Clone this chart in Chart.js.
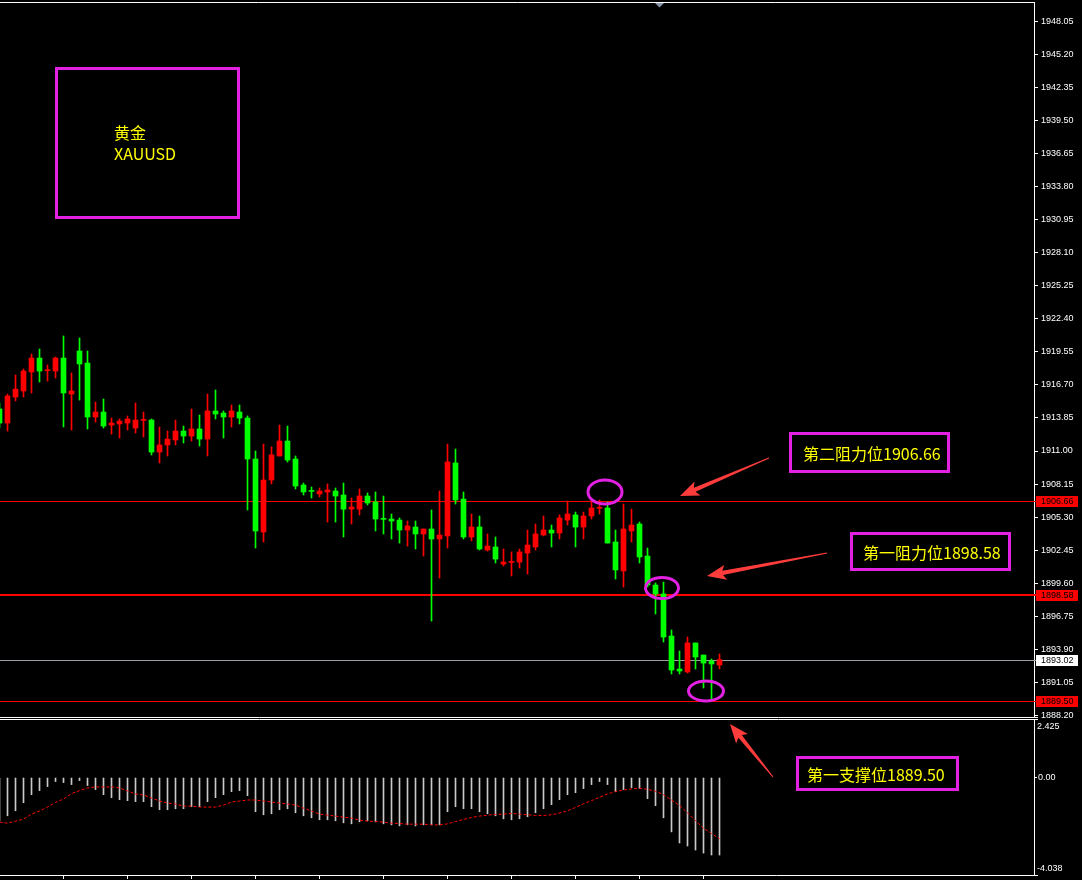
<!DOCTYPE html>
<html>
<head>
<meta charset="utf-8">
<title>黄金 XAUUSD</title>
<script src="https://cdn.jsdelivr.net/npm/chart.js@4.4.1/dist/chart.umd.min.js"></script>
<style>
  html, body { margin: 0; padding: 0; background: #000; width: 1082px; height: 880px; overflow: hidden; }
  #wrap { position: relative; width: 1082px; height: 880px; }
  #main { position: absolute; left: 0; top: 0; }
  #macd { position: absolute; left: 0; top: 719px; }
  #marks { position: absolute; left: 0; top: 0; pointer-events: none; }
  .note {
    position: absolute; box-sizing: border-box; border: 3px solid #e221e2;
    color: #ffff00; font: 16px "Noto Sans CJK SC", sans-serif; white-space: nowrap;
    display: flex; align-items: center;
  }
</style>
</head>
<body>
<div id="wrap">
  <canvas id="main" width="1082" height="718"></canvas>
  <canvas id="macd" width="1082" height="161"></canvas>
  <svg id="marks" width="1082" height="880"></svg>
  <div class="note" style="left:55px;top:67px;width:185px;height:152px;display:block;">
    <div style="position:absolute;left:56px;top:52px;line-height:21px;">黄金<br>XAUUSD</div>
  </div>
  <div class="note" style="left:789px;top:432px;width:161px;height:41px;padding-left:11px;">第二阻力位1906.66</div>
  <div class="note" style="left:850px;top:532px;width:161px;height:39px;padding-left:10px;">第一阻力位1898.58</div>
  <div class="note" style="left:796px;top:756px;width:163px;height:35px;padding-left:8px;">第一支撑位1889.50</div>
</div>
<script>
// ---- price bars (oldest first) ----
const open = [1914.62,1913.41,1915.65,1916.17,1917.81,1919.01,1917.92,1917.89,1919.01,1915.91,
  1919.62,1918.58,1913.93,1914.36,1913.24,1913.33,1913.41,1912.98,1913.64,1913.67,
  1910.91,1911.52,1911.95,1912.72,1912.29,1912.90,1912.03,1914.45,1914.27,1913.93,
  1914.36,1913.84,1910.31,1904.02,1908.50,1910.57,1911.86,1910.31,1908.07,1907.58,
  1907.30,1907.47,1907.55,1907.21,1905.99,1905.99,1907.12,1906.61,1905.16,1905.14,
  1905.05,1904.19,1904.45,1903.85,1904.28,1903.42,1903.68,1909.97,1906.86,1903.59,
  1904.45,1902.47,1902.73,1901.26,1901.40,1901.43,1902.21,1902.73,1903.76,1904.19,
  1903.93,1905.05,1905.49,1904.45,1905.40,1906.06,1906.09,1903.16,1900.66,1904.11,
  1904.71,1901.95,1899.45,1898.68,1895.06,1892.21,1891.96,1894.46,1893.42,1892.90,
  1892.56];
const high = [1915.14,1915.91,1917.55,1918.07,1919.36,1919.79,1918.41,1919.10,1920.91,1917.72,
  1920.74,1919.62,1915.22,1915.48,1913.84,1913.76,1914.02,1915.14,1914.36,1913.76,
  1913.07,1912.72,1913.67,1913.15,1914.62,1914.10,1915.91,1916.26,1914.45,1914.96,
  1914.96,1914.02,1911.00,1911.60,1911.35,1913.24,1913.15,1910.57,1908.24,1907.90,
  1907.81,1908.16,1907.81,1908.24,1906.95,1907.73,1907.38,1907.47,1907.12,1905.57,
  1905.23,1904.97,1904.97,1904.28,1905.92,1907.55,1911.60,1911.17,1907.47,1905.57,
  1905.40,1903.85,1903.59,1902.56,1902.30,1902.56,1904.19,1904.71,1905.40,1904.62,
  1905.49,1906.69,1905.74,1905.74,1906.69,1906.78,1906.61,1904.19,1906.43,1905.99,
  1904.88,1902.64,1899.63,1899.71,1895.58,1893.77,1894.97,1894.46,1893.42,1893.08,
  1893.51];
const low = [1912.98,1912.72,1915.31,1915.65,1916.00,1916.95,1917.03,1917.29,1913.07,1912.81,
  1915.39,1912.90,1913.50,1912.98,1912.46,1912.12,1912.81,1912.55,1912.21,1910.66,
  1909.97,1910.57,1911.52,1911.69,1911.86,1911.43,1910.57,1913.76,1912.12,1913.07,
  1913.33,1905.92,1902.64,1903.16,1908.16,1910.57,1910.05,1907.73,1907.21,1906.95,
  1907.04,1904.88,1904.88,1903.59,1904.71,1905.49,1906.35,1904.11,1903.85,1903.42,
  1903.07,1902.81,1902.56,1901.95,1896.35,1900.06,1902.64,1906.43,1903.42,1903.25,
  1902.47,1902.38,1901.35,1901.09,1900.23,1900.92,1900.40,1902.47,1903.68,1902.73,
  1903.42,1904.62,1902.73,1903.42,1905.14,1905.57,1903.07,1899.97,1899.28,1903.16,
  1901.35,1899.28,1896.96,1894.54,1891.79,1891.79,1891.87,1892.22,1890.58,1889.50,
  1892.22];
const close = [1913.41,1915.74,1916.33,1917.89,1919.01,1917.89,1917.98,1919.01,1916.00,1916.17,
  1918.50,1913.93,1914.36,1913.15,1913.41,1913.58,1913.76,1913.67,1913.70,1910.91,
  1911.52,1912.03,1912.72,1912.29,1912.90,1912.03,1914.45,1914.19,1913.93,1914.45,
  1913.84,1910.31,1904.11,1908.50,1910.66,1911.86,1910.22,1907.98,1907.47,1907.52,
  1907.55,1907.64,1907.12,1905.99,1906.17,1907.12,1906.52,1905.14,1905.11,1904.97,
  1904.19,1904.54,1903.85,1904.28,1903.42,1903.76,1910.05,1906.78,1903.59,1904.45,
  1902.56,1902.81,1901.69,1901.43,1901.46,1902.30,1902.90,1903.85,1904.19,1903.93,
  1905.23,1905.57,1904.45,1905.40,1906.09,1906.12,1903.07,1900.75,1904.28,1904.62,
  1901.87,1899.45,1898.68,1894.97,1892.13,1892.04,1894.46,1893.25,1892.73,1892.65,
  1893.02];

// ---- MACD sub-window ----
const macdMain = [-1.80,-1.585,-1.376,-1.043,-0.709,-0.542,-0.375,-0.167,-0.209,-0.292,
  -0.125,-0.334,-0.500,-0.709,-0.834,-0.917,-0.959,-1.001,-1.001,-1.209,
  -1.334,-1.334,-1.293,-1.293,-1.209,-1.209,-1.001,-0.834,-0.709,-0.584,
  -0.542,-0.751,-1.418,-1.543,-1.501,-1.334,-1.293,-1.460,-1.585,-1.668,
  -1.751,-1.751,-1.793,-1.877,-1.918,-1.835,-1.793,-1.835,-1.918,-1.960,
  -2.002,-1.960,-2.002,-1.960,-1.960,-1.960,-1.418,-1.209,-1.293,-1.293,
  -1.418,-1.501,-1.585,-1.710,-1.751,-1.710,-1.626,-1.460,-1.293,-1.126,
  -0.917,-0.709,-0.626,-0.459,-0.292,-0.167,-0.292,-0.584,-0.500,-0.417,
  -0.459,-0.876,-1.168,-1.668,-2.252,-2.711,-2.836,-3.003,-3.128,-3.211,
  -3.211];
const macdSignal = [-1.849,-1.890,-1.807,-1.724,-1.515,-1.390,-1.223,-1.029,-0.890,-0.667,
  -0.542,-0.431,-0.389,-0.389,-0.389,-0.431,-0.556,-0.681,-0.723,-0.848,
  -0.973,-1.056,-1.098,-1.182,-1.182,-1.223,-1.223,-1.223,-1.140,-1.015,
  -0.973,-0.931,-0.931,-0.973,-1.015,-1.056,-1.098,-1.140,-1.265,-1.390,
  -1.515,-1.557,-1.599,-1.640,-1.682,-1.765,-1.807,-1.821,-1.849,-1.890,
  -1.904,-1.932,-1.932,-1.932,-1.960,-1.960,-1.918,-1.821,-1.738,-1.654,
  -1.599,-1.557,-1.529,-1.515,-1.487,-1.515,-1.543,-1.571,-1.571,-1.543,
  -1.473,-1.376,-1.237,-1.084,-0.959,-0.820,-0.681,-0.584,-0.514,-0.473,
  -0.445,-0.487,-0.570,-0.709,-0.931,-1.154,-1.460,-1.793,-2.099,-2.321,
  -2.530];

// ---- axes ----
const priceTicks = [1948.05,1945.20,1942.35,1939.50,1936.65,1933.80,1930.95,1928.10,1925.25,1922.40,
  1919.55,1916.70,1913.85,1911.00,1908.15,1905.30,1902.45,1899.60,1896.75,1893.90,1891.05,1888.20];
const priceMin = 1888.08, priceMax = 1949.69;
const macdMin = -4.038, macdMax = 2.425;
const macdTicks = [0];
const timeTicks = [8,16,24,32,40,48,56,64,72,80,88];
const barMin = 0.0625, barMax = 129.3125;

// ---- horizontal levels: resistance 2, resistance 1, bid, support 1 ----
const levels = [1906.66, 1898.58, 1893.02, 1889.50];
const levelColors = ['#ff0000', '#ff0000', '#9a9ca4', '#ff0000'];
const levelWidths = [1, 2, 1, 1];
const tagFill = ['#ff0000', '#ff0000', '#ffffff', '#ff0000'];

const UP = '#ff0000', DOWN = '#00ff00';
const idx = open.map((_, i) => i);
const candleColors = idx.map(i => close[i] >= open[i] ? UP : DOWN);
const AXIS_FONT = { family: '"Liberation Sans", Arial, sans-serif', size: 9 };

Chart.defaults.font.family = AXIS_FONT.family;

// keep the plot area flush with the canvas edges
function fixWidth(w) {
  return s => { s.width = w; s.paddingTop = 0; s.paddingBottom = 0; s.paddingLeft = 0; s.paddingRight = 0; };
}
function fixHeight(h) {
  return s => { s.height = h; s.paddingTop = 0; s.paddingBottom = 0; s.paddingLeft = 0; s.paddingRight = 0; };
}

const levelLines = {
  id: 'levelLines',
  beforeDatasetsDraw(chart) {
    const { ctx, chartArea: a, scales: { y } } = chart;
    ctx.save();
    levels.forEach((lv, k) => {
      const w = levelWidths[k];
      const py = Math.round(y.getPixelForValue(lv)) + (w % 2 ? 0.5 : 0);
      ctx.lineWidth = w;
      ctx.strokeStyle = levelColors[k];
      ctx.beginPath();
      ctx.moveTo(a.left, py); ctx.lineTo(a.right + 2, py);
      ctx.stroke();
    });
    ctx.restore();
  }
};

const mainFrame = {
  id: 'mainFrame',
  afterDraw(chart) {
    const { ctx, chartArea: a, scales: { y } } = chart;
    ctx.save();
    ctx.strokeStyle = '#ffffff';
    ctx.lineWidth = 1;
    ctx.beginPath();
    ctx.moveTo(0, a.top + 0.5); ctx.lineTo(a.right + 0.5, a.top + 0.5);
    ctx.moveTo(0, a.bottom + 0.5); ctx.lineTo(a.right + 4, a.bottom + 0.5);
    ctx.stroke();
    // chart-shift marker
    ctx.fillStyle = '#8793a6';
    ctx.beginPath();
    ctx.moveTo(655, a.top + 1); ctx.lineTo(664, a.top + 1); ctx.lineTo(659.5, a.top + 5.5);
    ctx.closePath(); ctx.fill();
    // price tags on the axis
    ctx.font = '9px ' + AXIS_FONT.family;
    ctx.textBaseline = 'middle';
    levels.forEach((lv, k) => {
      const py = Math.round(y.getPixelForValue(lv));
      ctx.fillStyle = tagFill[k];
      ctx.fillRect(y.left + 2, py - 5, 42, 11);
      ctx.fillStyle = '#000000';
      ctx.fillText(lv.toFixed(2), y.left + 7, py + 0.5);
    });
    ctx.restore();
  }
};

new Chart(document.getElementById('main'), {
  type: 'bar',
  data: {
    datasets: [
      { order: 2, data: idx.map(i => ({ x: i, y: [low[i], high[i]] })),
        backgroundColor: candleColors, barThickness: 1, grouped: false },
      { order: 1, data: idx.map(i => ({ x: i, y: [open[i], close[i]] })),
        backgroundColor: candleColors, barThickness: 5, grouped: false, minBarLength: 1 }
    ]
  },
  options: {
    responsive: false, animation: false, events: [],
    layout: { padding: { top: 2, bottom: 1, left: 0, right: 0 } },
    plugins: { legend: { display: false }, tooltip: { enabled: false } },
    scales: {
      x: { type: 'linear', display: false, min: barMin, max: barMax, offset: false },
      y: {
        position: 'right', min: priceMin, max: priceMax,
        afterFit: fixWidth(48),
        afterBuildTicks(s) { s.ticks = priceTicks.map(v => ({ value: v })); },
        ticks: { color: '#ffffff', font: AXIS_FONT, padding: 3, autoSkip: false,
                 callback: v => Number(v).toFixed(2) },
        grid: { drawOnChartArea: false, drawTicks: true, tickLength: 4, color: '#ffffff', offset: false },
        border: { display: true, color: '#ffffff' }
      }
    }
  },
  plugins: [levelLines, mainFrame]
});

const macdFrame = {
  id: 'macdFrame',
  afterDraw(chart) {
    const { ctx, chartArea: a, scales: { y } } = chart;
    ctx.save();
    ctx.strokeStyle = '#ffffff';
    ctx.lineWidth = 1;
    ctx.beginPath();
    ctx.moveTo(0, a.top + 0.5); ctx.lineTo(a.right + 4, a.top + 0.5);
    ctx.moveTo(a.right, a.bottom + 0.5); ctx.lineTo(a.right + 4, a.bottom + 0.5);
    ctx.stroke();
    ctx.fillStyle = '#ffffff';
    ctx.font = '9px ' + AXIS_FONT.family;
    ctx.textBaseline = 'middle';
    ctx.fillText(macdMax.toFixed(3), y.left + 3, a.top + 8);
    ctx.fillText(macdMin.toFixed(3), y.left + 3, a.bottom - 6);
    ctx.restore();
  }
};

new Chart(document.getElementById('macd'), {
  type: 'bar',
  data: {
    datasets: [
      { type: 'line', order: 0, data: idx.map(i => ({ x: i, y: macdSignal[i] })),
        borderColor: '#ff0000', borderWidth: 1, borderDash: [3, 2], pointRadius: 0, tension: 0 },
      { order: 1, data: idx.map(i => ({ x: i, y: macdMain[i] })),
        backgroundColor: '#c8c8c8', barThickness: 1 }
    ]
  },
  options: {
    responsive: false, animation: false, events: [],
    layout: { padding: 0 },
    plugins: { legend: { display: false }, tooltip: { enabled: false } },
    scales: {
      x: {
        type: 'linear', position: 'bottom', min: barMin, max: barMax, offset: false,
        afterFit: fixHeight(5),
        afterBuildTicks(s) { s.ticks = timeTicks.map(v => ({ value: v })); },
        ticks: { callback: () => '', font: AXIS_FONT },
        grid: { drawOnChartArea: false, drawTicks: true, tickLength: 4, color: '#ffffff', offset: false },
        border: { display: true, color: '#ffffff' }
      },
      y: {
        position: 'right', min: macdMin, max: macdMax,
        afterFit: fixWidth(48),
        afterBuildTicks(s) { s.ticks = macdTicks.map(v => ({ value: v })); },
        ticks: { color: '#ffffff', font: AXIS_FONT, padding: 1, autoSkip: false,
                 callback: v => Number(v).toFixed(2) },
        grid: { drawOnChartArea: false, drawTicks: true, tickLength: 3, color: '#ffffff', offset: false },
        border: { display: true, color: '#ffffff' }
      }
    }
  },
  plugins: [macdFrame]
});

// ---- callouts: rings and arrows ----
const svg = document.getElementById('marks');
const NS = 'http://www.w3.org/2000/svg';
const rings = [[605, 492, 17, 12], [662, 588, 16.5, 10.5], [706, 691, 17.5, 10]];
rings.forEach(([cx, cy, rx, ry]) => {
  const e = document.createElementNS(NS, 'ellipse');
  e.setAttribute('cx', cx); e.setAttribute('cy', cy);
  e.setAttribute('rx', rx); e.setAttribute('ry', ry);
  e.setAttribute('fill', 'none'); e.setAttribute('stroke', '#e221e2'); e.setAttribute('stroke-width', 3);
  svg.appendChild(e);
});
const arrows = [[769, 458, 680, 496], [827, 553, 707, 576], [773, 777, 730, 724]];
arrows.forEach(([tx, ty, px, py]) => {
  const L = Math.hypot(px - tx, py - ty);
  const ux = (px - tx) / L, uy = (py - ty) / L, nx = -uy, ny = ux;
  const hl = 16, hw = 7.5, sw = 2.2, tw = 0.5;
  const bx = px - ux * hl, by = py - uy * hl;
  const pts = [
    [tx + nx * tw, ty + ny * tw], [bx + nx * sw, by + ny * sw], [bx + nx * hw - ux * 3, by + ny * hw - uy * 3],
    [px, py], [bx - nx * hw - ux * 3, by - ny * hw - uy * 3], [bx - nx * sw, by - ny * sw], [tx - nx * tw, ty - ny * tw]
  ];
  const p = document.createElementNS(NS, 'polygon');
  p.setAttribute('points', pts.map(q => q[0].toFixed(1) + ',' + q[1].toFixed(1)).join(' '));
  p.setAttribute('fill', '#ff3c3c');
  svg.appendChild(p);
});
</script>
</body>
</html>
